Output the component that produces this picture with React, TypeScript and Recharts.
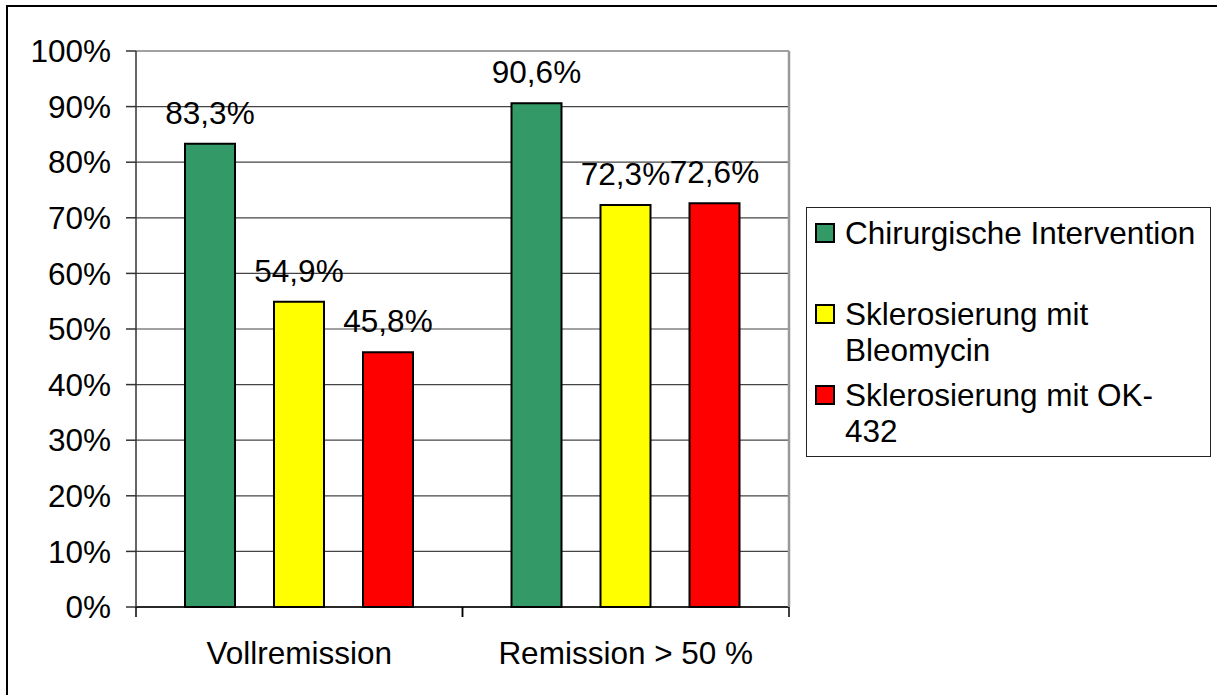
import React from "react";
import {
  Bar,
  BarChart,
  CartesianGrid,
  LabelList,
  Legend,
  XAxis,
  YAxis,
} from "recharts";

const categories = ["Vollremission", "Remission > 50 %"];
const chirurgie = [0.833, 0.906];
const bleomycin = [0.549, 0.723];
const ok432 = [0.458, 0.726];

const seriesKeys = ["chirurgie", "bleomycin", "ok432"];
const seriesNames = [
  "Chirurgische Intervention",
  "Sklerosierung mit Bleomycin",
  "Sklerosierung mit OK-432",
];
const legendLines = [
  ["Chirurgische Intervention"],
  ["Sklerosierung mit", "Bleomycin"],
  ["Sklerosierung mit OK-", "432"],
];
const seriesColors = ["#339966", "#ffff00", "#ff0000"];

const yTicks = [0, 0.1, 0.2, 0.3, 0.4, 0.5, 0.6, 0.7, 0.8, 0.9, 1];

const FONT = "'Liberation Sans', Arial, sans-serif";
const FS = 31.5;

const data = categories.map((category, i) => ({
  category,
  chirurgie: chirurgie[i],
  bleomycin: bleomycin[i],
  ok432: ok432[i],
}));

const pct = (v: number) => `${Math.round(v * 100)}%`;
const pct1 = (v: number) => `${(v * 100).toFixed(1).replace(".", ",")}%`;

// category label plus tick marks on the category boundaries
function XTick(props: any) {
  const { x, y, payload } = props;
  const half = payload.offset || 0;
  return (
    <g>
      {half > 0 && (
        <>
          <line x1={x - half} y1={y} x2={x - half} y2={y + 10} stroke="#000" strokeWidth={1.5} />
          <line x1={x + half} y1={y} x2={x + half} y2={y + 10} stroke="#000" strokeWidth={1.5} />
        </>
      )}
      <text
        x={x}
        y={y + 57}
        textAnchor="middle"
        fill="#000"
        fontSize={FS}
        fontFamily={FONT}
      >
        {payload.value}
      </text>
    </g>
  );
}

function LegendBox() {
  return (
    <div
      style={{
        boxSizing: "border-box",
        width: 405,
        height: 250,
        border: "1.5px solid #222",
        background: "#fff",
        paddingTop: 7,
        fontFamily: FONT,
        fontSize: FS,
        color: "#000",
      }}
    >
      {legendLines.map((lines, i) => (
        <div
          key={seriesNames[i]}
          style={{ display: "flex", height: 81, alignItems: "flex-start" }}
        >
          <div
            style={{
              boxSizing: "border-box",
              width: 20,
              height: 20,
              marginLeft: 8,
              marginTop: 8,
              marginRight: 10,
              background: seriesColors[i],
              border: "2px solid #000",
              flexShrink: 0,
            }}
          />
          <div style={{ lineHeight: "36px", whiteSpace: "nowrap" }}>
            {lines.map((l) => (
              <div key={l}>{l}</div>
            ))}
          </div>
        </div>
      ))}
    </div>
  );
}

export default function App() {
  return (
    <div
      style={{
        position: "absolute",
        left: 0,
        top: 0,
        width: 1217,
        height: 695,
        overflow: "hidden",
        background: "#fff",
        fontFamily: FONT,
      }}
    >
      <div
        style={{
          position: "absolute",
          left: 6,
          top: 5,
          width: 1300,
          height: 800,
          border: "2px solid #000",
        }}
      />
      <div style={{ position: "absolute", left: 0, top: 0 }}>
        <BarChart
          width={1217}
          height={695}
          data={data}
          margin={{ top: 51, right: 427, bottom: 0, left: 10 }}
          barGap={39}
          barSize={50}
        >
          <CartesianGrid
            vertical={false}
            stroke="#444"
            strokeWidth={1.2}
            yAxisId="left"
          />
          <XAxis
            dataKey="category"
            interval={0}
            height={88}
            tickLine={false}
            tickSize={0}
            tickMargin={0}
            axisLine={{ stroke: "#000", strokeWidth: 1.5 }}
            tick={<XTick />}
          />
          <YAxis
            yAxisId="left"
            domain={[0, 1]}
            ticks={yTicks}
            interval={0}
            width={126}
            tickFormatter={pct}
            tickSize={10}
            tickMargin={15}
            axisLine={{ stroke: "#333", strokeWidth: 1.5 }}
            tickLine={{ stroke: "#333", strokeWidth: 1.5 }}
            tick={{ fill: "#000", fontSize: FS, fontFamily: FONT }}
          />
          <YAxis
            yAxisId="right"
            orientation="right"
            domain={[0, 1]}
            width={1}
            tick={false}
            tickLine={false}
            axisLine={{ stroke: "#999", strokeWidth: 2.5 }}
          />
          <Legend
            layout="vertical"
            align="center"
            verticalAlign="middle"
            content={() => <LegendBox />}
            wrapperStyle={{ left: 806, top: 207, width: 405, height: 250 }}
          />
          {seriesKeys.map((key, i) => (
            <Bar
              key={key}
              yAxisId="left"
              dataKey={key}
              name={seriesNames[i]}
              fill={seriesColors[i]}
              stroke="#000"
              strokeWidth={2}
              isAnimationActive={false}
            >
              <LabelList
                dataKey={key}
                position="top"
                offset={20}
                formatter={(v: any) => pct1(Number(v))}
                fill="#000"
                fontSize={FS}
                fontFamily={FONT}
              />
            </Bar>
          ))}
        </BarChart>
      </div>
    </div>
  );
}
